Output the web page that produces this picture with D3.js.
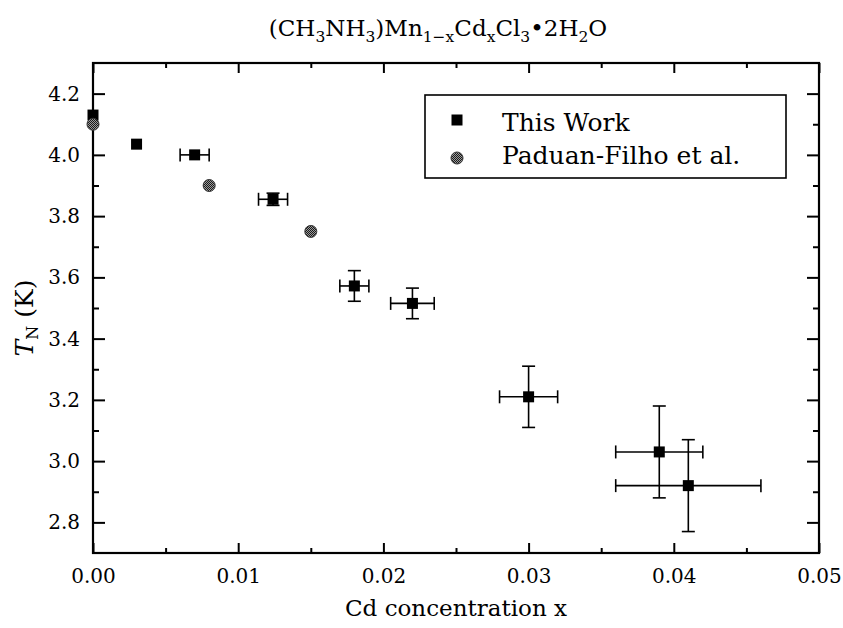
<!DOCTYPE html>
<html>
<head>
<meta charset="utf-8">
<script src="https://cdn.jsdelivr.net/npm/d3@7"></script>
<style>
  html, body { margin: 0; padding: 0; background: #fff; }
  svg { display: block; }
  text { font-family: "DejaVu Serif", "Liberation Serif", serif; fill: #000; }
</style>
</head>
<body>
<svg id="chart" width="843" height="628"></svg>
<script>
// Néel temperature vs Cd concentration
const thisWorkX    = [0.000, 0.003, 0.007, 0.0124, 0.018, 0.022, 0.030, 0.039, 0.041];
const thisWorkT    = [4.13, 4.035, 4.00, 3.855, 3.572, 3.515, 3.21, 3.03, 2.92];
const thisWorkXErr = [0, 0, 0.001, 0.001, 0.001, 0.0015, 0.002, 0.003, 0.005];
const thisWorkTErr = [0, 0, 0, 0.02, 0.05, 0.05, 0.10, 0.15, 0.15];

const paduanX = [0.000, 0.008, 0.015];
const paduanT = [4.10, 3.90, 3.75];

const xMajorTicks = [0, 0.01, 0.02, 0.03, 0.04, 0.05];
const xMinorTicks = [0.005, 0.015, 0.025, 0.035, 0.045];
const yMajorTicks = [2.8, 3.0, 3.2, 3.4, 3.6, 3.8, 4.0, 4.2];
const yMinorTicks = [2.9, 3.1, 3.3, 3.5, 3.7, 3.9, 4.1];

const legendLabels = ["This Work", "Paduan-Filho et al."];

const svg = d3.select("#chart");
const plot = { left: 93, right: 819, top: 63, bottom: 553 };

const x = d3.scaleLinear().domain([0, 0.05]).range([plot.left, plot.right]);
const y = d3.scaleLinear().domain([2.7, 4.3]).range([plot.bottom, plot.top]);

// halftone fill for the reference circles
const defs = svg.append("defs");
const pat = defs.append("pattern")
  .attr("id", "halftone").attr("patternUnits", "userSpaceOnUse")
  .attr("width", 2).attr("height", 2);
pat.append("rect").attr("width", 2).attr("height", 2).attr("fill", "#9a9a9a");
pat.append("rect").attr("x", 0).attr("y", 0).attr("width", 1).attr("height", 1).attr("fill", "#1a1a1a");
pat.append("rect").attr("x", 1).attr("y", 1).attr("width", 1).attr("height", 1).attr("fill", "#1a1a1a");

// axes: ticks on all four sides, pointing inward
function styleAxis(g) {
  g.attr("font-family", "DejaVu Serif").attr("font-size", 20);
  g.select(".domain").remove();
  g.selectAll(".tick line").attr("stroke", "#000").attr("stroke-width", 2);
  g.selectAll(".tick text").attr("fill", "#000");
}

svg.append("g").attr("transform", `translate(0,${plot.bottom})`)
  .call(d3.axisBottom(x).tickValues(xMajorTicks).tickSize(-10).tickPadding(16).tickFormat(d3.format(".2f")))
  .call(styleAxis);
svg.append("g").attr("transform", `translate(0,${plot.bottom})`)
  .call(d3.axisBottom(x).tickValues(xMinorTicks).tickSize(-5).tickFormat(""))
  .call(styleAxis);
svg.append("g").attr("transform", `translate(0,${plot.top})`)
  .call(d3.axisTop(x).tickValues(xMajorTicks).tickSize(-10).tickFormat(""))
  .call(styleAxis);
svg.append("g").attr("transform", `translate(0,${plot.top})`)
  .call(d3.axisTop(x).tickValues(xMinorTicks).tickSize(-5).tickFormat(""))
  .call(styleAxis);

svg.append("g").attr("transform", `translate(${plot.left},0)`)
  .call(d3.axisLeft(y).tickValues(yMajorTicks).tickSize(-12).tickPadding(13).tickFormat(d3.format(".1f")))
  .call(styleAxis);
svg.append("g").attr("transform", `translate(${plot.left},0)`)
  .call(d3.axisLeft(y).tickValues(yMinorTicks).tickSize(-6).tickFormat(""))
  .call(styleAxis);
svg.append("g").attr("transform", `translate(${plot.right},0)`)
  .call(d3.axisRight(y).tickValues(yMajorTicks).tickSize(-12).tickFormat(""))
  .call(styleAxis);
svg.append("g").attr("transform", `translate(${plot.right},0)`)
  .call(d3.axisRight(y).tickValues(yMinorTicks).tickSize(-6).tickFormat(""))
  .call(styleAxis);

// empty minor-tick labels are not needed
svg.selectAll(".tick text").filter(function () { return this.textContent === ""; }).remove();

// frame
svg.append("rect")
  .attr("x", plot.left).attr("y", plot.top)
  .attr("width", plot.right - plot.left).attr("height", plot.bottom - plot.top)
  .attr("fill", "none").attr("stroke", "#000").attr("stroke-width", 2.2);

// error bars
const pts = thisWorkX.map((v, i) => ({ x: v, t: thisWorkT[i], dx: thisWorkXErr[i], dt: thisWorkTErr[i] }));
const cap = 6.5;
const eb = svg.append("g").attr("stroke", "#000").attr("stroke-width", 1.6).attr("fill", "none");
pts.filter(d => d.dx > 0).forEach(d => {
  const cy = y(d.t), x0 = x(d.x - d.dx), x1 = x(d.x + d.dx);
  eb.append("line").attr("x1", x0).attr("x2", x1).attr("y1", cy).attr("y2", cy);
  eb.append("line").attr("x1", x0).attr("x2", x0).attr("y1", cy - cap).attr("y2", cy + cap);
  eb.append("line").attr("x1", x1).attr("x2", x1).attr("y1", cy - cap).attr("y2", cy + cap);
});
pts.filter(d => d.dt > 0).forEach(d => {
  const cx = x(d.x), y0 = y(d.t - d.dt), y1 = y(d.t + d.dt);
  eb.append("line").attr("x1", cx).attr("x2", cx).attr("y1", y0).attr("y2", y1);
  eb.append("line").attr("x1", cx - cap).attr("x2", cx + cap).attr("y1", y0).attr("y2", y0);
  eb.append("line").attr("x1", cx - cap).attr("x2", cx + cap).attr("y1", y1).attr("y2", y1);
});

// square markers (this work)
const sq = 11;
svg.append("g").selectAll("rect").data(pts).join("rect")
  .attr("x", d => x(d.x) - sq / 2).attr("y", d => y(d.t) - sq / 2)
  .attr("width", sq).attr("height", sq).attr("fill", "#000");

// circle markers (Paduan-Filho et al.)
svg.append("g").selectAll("circle").data(paduanX.map((v, i) => ({ x: v, t: paduanT[i] }))).join("circle")
  .attr("cx", d => x(d.x)).attr("cy", d => y(d.t)).attr("r", 6)
  .attr("fill", "url(#halftone)").attr("stroke", "#333").attr("stroke-width", 1);

// legend
const lg = svg.append("g");
lg.append("rect").attr("x", 425).attr("y", 95).attr("width", 361).attr("height", 83)
  .attr("fill", "#fff").attr("stroke", "#000").attr("stroke-width", 1.6);
lg.append("rect").attr("x", 457 - 5.5).attr("y", 120 - 5.5).attr("width", sq).attr("height", sq).attr("fill", "#000");
lg.append("circle").attr("cx", 457).attr("cy", 158).attr("r", 6)
  .attr("fill", "url(#halftone)").attr("stroke", "#333").attr("stroke-width", 1);
lg.append("text").attr("x", 502).attr("y", 131).style("font-size", "25px").text(legendLabels[0]);
lg.append("text").attr("x", 502).attr("y", 164).style("font-size", "25px").text(legendLabels[1]);

// title with chemical formula subscripts
function formula(sel, parts, size, subSize, shift) {
  let pending = 0;
  parts.forEach(p => {
    if (p.sub) {
      sel.append("tspan").attr("dy", shift - pending).style("font-size", subSize + "px").text(p.sub);
      pending = shift;
    } else {
      sel.append("tspan").attr("dy", -pending).style("font-size", size + "px").text(p.t);
      pending = 0;
    }
  });
}
const title = svg.append("text").attr("x", 438).attr("y", 36).attr("text-anchor", "middle");
formula(title, [
  { t: "(CH" }, { sub: "3" }, { t: "NH" }, { sub: "3" }, { t: ")Mn" }, { sub: "1\u2212x" },
  { t: "Cd" }, { sub: "x" }, { t: "Cl" }, { sub: "3" }, { t: "\u20222H" }, { sub: "2" }, { t: "O" }
], 23, 15.5, 6);

// axis titles
svg.append("text").attr("x", (plot.left + plot.right) / 2).attr("y", 616)
  .attr("text-anchor", "middle").style("font-size", "23px").text("Cd concentration x");

const yt = svg.append("text").attr("transform", "translate(33,318) rotate(-90)").attr("text-anchor", "middle");
yt.append("tspan").style("font-size", "25px").style("font-style", "italic").text("T");
yt.append("tspan").attr("dy", 5).style("font-size", "16px").text("N");
yt.append("tspan").attr("dy", -5).style("font-size", "25px").text(" (K)");
</script>
</body>
</html>
